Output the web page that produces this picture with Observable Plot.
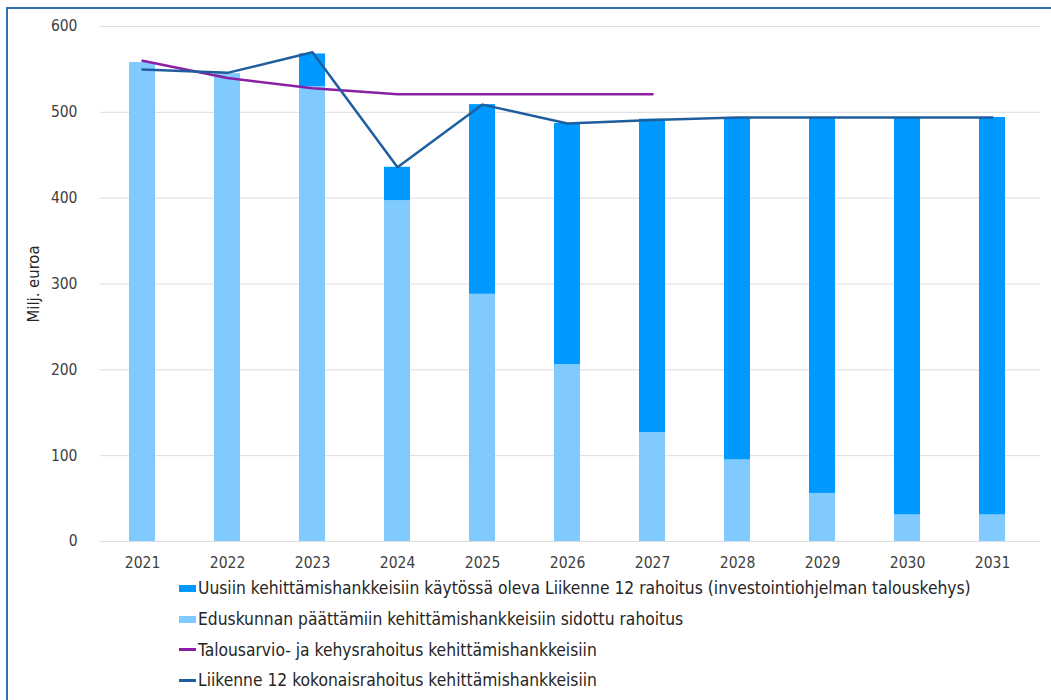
<!DOCTYPE html>
<html>
<head>
<meta charset="utf-8">
<script src="https://cdn.jsdelivr.net/npm/d3@7"></script>
<script src="https://cdn.jsdelivr.net/npm/@observablehq/plot@0.6"></script>
<style>
  html, body { margin: 0; padding: 0; background: #fff; }
  body { width: 1051px; height: 700px; position: relative; overflow: hidden; font-family: "DejaVu Sans Condensed", "DejaVu Sans", sans-serif; font-stretch: condensed; }
  #frame { position: absolute; left: 6px; top: 7px; right: -10px; bottom: -10px; border-left: 2px solid #2f73b4; border-top: 2px solid #2f73b4; pointer-events: none; }
  #chart { position: absolute; left: 0; top: 0; }
  #legend { position: absolute; left: 179px; top: 573px; color: #262626; font-size: 17.3px; }
  .item { display: flex; align-items: center; height: 30.7px; white-space: nowrap; }
  .sw { width: 17px; margin-right: 2px; flex: none; }
</style>
</head>
<body>
<div id="chart"></div>
<div id="legend"></div>
<div id="frame"></div>
<script>
const years = ["2021","2022","2023","2024","2025","2026","2027","2028","2029","2030","2031"];
// Eduskunnan päättämiin kehittämishankkeisiin sidottu rahoitus
const sidottu = [558, 545, 530, 397, 288, 206, 127, 95, 56, 31, 31];
// Uusiin kehittämishankkeisiin käytössä oleva Liikenne 12 rahoitus
const uusiin = [0, 0, 38, 39, 221, 281, 365, 399, 438, 463, 463];
// Talousarvio- ja kehysrahoitus kehittämishankkeisiin (2021–2027)
const talousYears = ["2021","2022","2023","2024","2025","2026","2027"];
const talousarvio = [560, 540, 528, 521, 521, 521, 521];
// Liikenne 12 kokonaisrahoitus kehittämishankkeisiin
const kokonais = [550, 546, 570, 436, 509, 487, 491, 494, 494, 494, 494];
const yTicks = [0, 100, 200, 300, 400, 500, 600];

const sUusiin = "Uusiin kehittämishankkeisiin käytössä oleva Liikenne 12 rahoitus (investointiohjelman talouskehys)";
const sSidottu = "Eduskunnan päättämiin kehittämishankkeisiin sidottu rahoitus";
const sTalous = "Talousarvio- ja kehysrahoitus kehittämishankkeisiin";
const sKok = "Liikenne 12 kokonaisrahoitus kehittämishankkeisiin";

const cUusiin = "#0099ff";
const cSidottu = "#80caff";
const cTalous = "#8a1fa6";
const cKok = "#1e5e9e";

const barRows = [];
years.forEach((y, i) => {
  barRows.push({year: y, series: sSidottu, value: sidottu[i]});
  barRows.push({year: y, series: sUusiin, value: uusiin[i]});
});
const talousRows = talousYears.map((y, i) => ({year: y, value: talousarvio[i]}));
const kokRows = years.map((y, i) => ({year: y, value: kokonais[i]}));

const chart = Plot.plot({
  width: 1051,
  height: 575,
  marginTop: 26,
  marginBottom: 34,
  marginLeft: 100,
  marginRight: 11,
  style: {fontFamily: "'DejaVu Sans Condensed', 'DejaVu Sans', sans-serif", fontStretch: "condensed", fontSize: "15.5px", color: "#404040", background: "transparent"},
  x: {domain: years, paddingInner: 0.695, paddingOuter: 0.37, align: 0.46, label: null, tickSize: 0, tickPadding: 15},
  y: {domain: [0, 600], ticks: yTicks, label: null, tickSize: 0, tickPadding: 23},
  color: {domain: [sSidottu, sUusiin], range: [cSidottu, cUusiin]},
  marks: [
    Plot.ruleY(yTicks, {stroke: "#dcdcdc", strokeWidth: 1}),
    Plot.barY(barRows, Plot.stackY({x: "year", y: "value", fill: "series", order: null})),
    Plot.line(talousRows, {x: "year", y: "value", stroke: cTalous, strokeWidth: 2.5}),
    Plot.line(kokRows, {x: "year", y: "value", stroke: cKok, strokeWidth: 2.5}),
    Plot.text(["Milj. euroa"], {frameAnchor: "left", textAnchor: "middle", dx: -67, rotate: -90, fill: "#262626", fontSize: 16.5})
  ]
});
document.getElementById("chart").appendChild(chart);

const legendItems = [
  {label: sUusiin, color: cUusiin, type: "bar"},
  {label: sSidottu, color: cSidottu, type: "bar"},
  {label: sTalous, color: cTalous, type: "line"},
  {label: sKok, color: cKok, type: "line"}
];
const legend = document.getElementById("legend");
legendItems.forEach(d => {
  const item = document.createElement("div");
  item.className = "item";
  const sw = document.createElement("span");
  sw.className = "sw";
  sw.style.background = d.color;
  sw.style.height = d.type === "bar" ? "7px" : "3px";
  const t = document.createElement("span");
  t.textContent = d.label;
  item.appendChild(sw);
  item.appendChild(t);
  legend.appendChild(item);
});
</script>
</body>
</html>
